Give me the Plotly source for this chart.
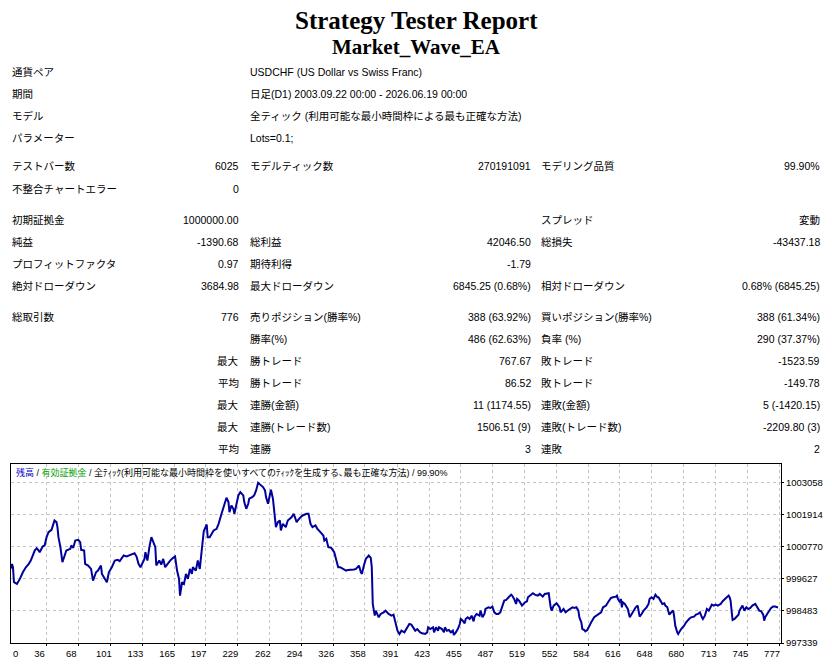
import plotly.graph_objects as go

# --- report header ---
report_title = "Strategy Tester Report"
ea_name = "Market_Wave_EA"

info_labels = ["通貨ペア", "期間", "モデル", "パラメーター"]
info_values = [
    "USDCHF (US Dollar vs Swiss Franc)",
    "日足(D1) 2003.09.22 00:00 - 2026.06.19 00:00",
    "全ティック (利用可能な最小時間枠による最も正確な方法)",
    "Lots=0.1;",
]

# stats table: label1, value1, label2, value2, label3, value3
stats_rows = [
    ["テストバー数", "6025", "モデルティック数", "270191091", "モデリング品質", "99.90%"],
    ["不整合チャートエラー", "0", "", "", "", ""],
    ["初期証拠金", "1000000.00", "", "", "スプレッド", "変動"],
    ["純益", "-1390.68", "総利益", "42046.50", "総損失", "-43437.18"],
    ["プロフィットファクタ", "0.97", "期待利得", "-1.79", "", ""],
    ["絶対ドローダウン", "3684.98", "最大ドローダウン", "6845.25 (0.68%)", "相対ドローダウン", "0.68% (6845.25)"],
    ["総取引数", "776", "売りポジション(勝率%)", "388 (63.92%)", "買いポジション(勝率%)", "388 (61.34%)"],
    ["", "", "勝率(%)", "486 (62.63%)", "負率 (%)", "290 (37.37%)"],
    ["", "最大", "勝トレード", "767.67", "敗トレード", "-1523.59"],
    ["", "平均", "勝トレード", "86.52", "敗トレード", "-149.78"],
    ["", "最大", "連勝(金額)", "11 (1174.55)", "連敗(金額)", "5 (-1420.15)"],
    ["", "最大", "連勝(トレード数)", "1506.51 (9)", "連敗(トレード数)", "-2209.80 (3)"],
    ["", "平均", "連勝", "3", "連敗", "2"],
]

# --- balance curve (trade number -> balance) ---
trade_no = [
    0, 1, 2, 3, 6, 9, 12, 15, 18, 20, 24, 26, 28, 29, 32, 34, 36, 38, 41, 44,
    46, 47, 48, 50, 52, 54, 56, 60, 61, 63, 65, 68, 70, 71, 74, 75, 78, 81, 83, 86,
    88, 91, 92, 94, 97, 99, 102, 105, 108, 110, 112, 114, 117, 119, 122, 125, 127, 129, 131, 133,
    135, 136, 138, 140, 142, 144, 146, 147, 150, 152, 154, 156, 158, 161, 164, 166, 168, 170, 171, 173,
    175, 177, 179, 181, 183, 184, 187, 189, 191, 193, 195,
    198, 199, 201, 203, 205, 208, 210, 213, 216, 218, 220, 221, 223, 225, 226, 228, 230, 232, 235, 236,
    238, 240, 241, 244, 246, 248, 250, 253, 255, 257, 258, 260, 262, 263, 265, 267, 268, 270, 272, 273,
    275, 278, 280, 284, 286, 289, 290, 293, 295, 299, 301, 303, 305, 308, 310, 313, 316, 317, 319, 321,
    324, 327, 329, 331, 333, 336, 339, 341, 344, 347, 349, 352, 354, 355, 357, 359, 362, 364, 365, 366,
    368, 369, 372, 374, 377, 379, 382, 385, 387,
    390, 391, 393, 395, 398, 401, 403, 405, 407, 409, 411, 414, 416, 419, 421, 422, 424, 427, 428, 430,
    432, 433, 436, 438, 439, 441, 443, 445, 447, 448, 450, 452, 454, 455, 457, 459, 460, 462, 464, 466,
    468, 469, 471, 474, 475, 477, 479, 480, 483, 485, 487, 489, 491, 493, 495, 497, 499, 501, 502, 504,
    506, 507, 509, 511, 512, 514, 516, 517, 520, 522, 523, 525, 528, 530, 533, 535, 538, 540, 543, 544,
    546, 547, 549, 552, 555, 556, 559, 561, 564, 566, 568, 570, 572, 574, 575, 577, 578, 580,
    581, 583, 585, 587, 590, 592, 594, 597, 599, 602, 604, 607, 609, 612, 613, 614, 616, 617, 618, 619,
    621, 622, 624, 626, 628, 630, 632, 634, 635, 636, 638, 640, 643, 645, 646, 648, 650, 652, 654, 655,
    657, 659, 661, 662, 664, 665, 666, 668, 670, 671, 672, 674, 675, 676, 678, 681, 683, 686, 688, 691,
    693, 695, 697, 699, 700, 702, 704, 706, 708, 709, 711, 713, 715, 718, 720, 723, 726, 727, 728, 729,
    730, 732, 734, 736, 737, 739, 740, 742, 744, 746, 748, 750, 753, 755, 757, 759, 761, 762, 763, 765,
    767, 769, 771, 773, 776,
]
balance = [
    1000000, 1000160, 1000043, 999507, 999447, 999626, 999864, 1000043, 1000162, 1000281,
    1000639, 1000722, 1000639, 1000579, 1000782, 1000818, 1001116, 1001294, 1001378, 1001711,
    1001652, 1001473, 1001116, 1000758, 1000222, 1000424, 1000639, 1000699, 1000818, 1000734,
    1000996, 1001020, 1000937, 1000663, 1000639, 1000162, 1000103, 999983, 999566, 999864,
    999924, 1000103, 999805, 999686, 999507, 999864, 1000043, 1000281, 1000305, 1000258,
    1000377, 1000460, 1000424, 1000460, 1000496, 1000544, 1000424, 1000162, 1000043, 1000222,
    1000341, 1000579, 1000281, 1000758, 1001116, 1000937, 1000758, 1000103, 1000281, 1000138,
    1000341, 1000043, 1000138, 1000281, 1000377, 1000424, 999924, 999626, 999030, 999507,
    999447, 999805, 999626, 999983, 999805, 1000043, 999924, 1000281, 999983, 1000639, 1001330,
    1001568, 1001116, 1001116, 1001235, 1001354, 1001414, 1001592, 1001950, 1002307, 1002522,
    1002367, 1002009, 1002248, 1002129, 1001950, 1002307, 1002605, 1002724, 1002605, 1002367,
    1002129, 1002307, 1002486, 1002546, 1002605, 1002784, 1003058, 1002963, 1002903, 1002784,
    1002546, 1002307, 1002665, 1002808, 1002486, 1001831, 1001473, 1001652, 1001711, 1001354,
    1001592, 1001473, 1001711, 1001831, 1001950, 1001652, 1001711, 1001831, 1001890, 1001950,
    1001950, 1001592, 1001473, 1001533, 1001414, 1001294, 1001175, 1000996, 1001056, 1000758,
    1000734, 1000579, 1000281, 1000043, 1000043, 999983, 999924, 999948, 999948, 999960,
    999983, 1000103, 999864, 999805, 1000103, 1000341, 1000460, 1000377, 1000043, 998732,
    998315, 998494, 998256, 998375, 998434, 998494, 998375, 998315, 998351,
    997898, 997779, 997660, 997779, 997719, 997898, 998017, 997993, 997898, 997779,
    997838, 997719, 997684, 997660, 997719, 997898, 997838, 997898, 997719, 997898,
    997779, 997898, 997838, 997719, 997898, 997779, 997803, 997719, 997779, 997624,
    997719, 997838, 998017, 998196, 998136, 998041, 998196, 998256, 998196, 998315,
    998113, 998279, 998375, 998315, 998494, 998256, 998375, 998553, 998613, 998589,
    998637, 998434, 998375, 998375, 998434, 998673, 998851, 998875, 998911, 998971,
    999066, 999030, 998911, 998732, 998911, 998851, 998732, 998673, 998792, 998828,
    998971, 999030, 999114, 999066, 999030, 999090, 998994, 999090, 999114, 999114,
    998613, 998494, 998673, 998756, 998613, 998434, 998553, 998434, 998518, 998553,
    998613, 998589, 998613, 998494, 998256, 998077, 997838, 997803,
    997755, 997803, 997958, 998077, 998256, 998315, 998375, 998434, 998613, 998673,
    998792, 998947, 998971, 998994, 999030, 998911, 998792, 998911, 998613, 998792,
    998732, 998673, 998553, 998256, 998375, 998494, 998613, 998673, 998494, 998279,
    998375, 998494, 998613, 998732, 998911, 998971, 998911, 999066, 998971, 998971,
    998851, 998732, 998756, 998673, 998613, 998434, 998351, 998434, 998494, 998256,
    997958, 997719, 997660, 997719, 997838, 997958, 998077, 998196, 998256, 998279,
    998351, 998375, 998434, 998256, 998196, 998315, 998553, 998494, 998613, 998708,
    998673, 998708, 998673, 998732, 998828, 998947, 999030, 998971, 998851, 998494,
    998160, 998196, 998256, 998351, 998494, 998613, 998673, 998494, 998613, 998553,
    998589, 998673, 998732, 998613, 998494, 998470, 998351, 998136, 998256, 998375,
    998494, 998589, 998637, 998637, 998609,
]

x_tick_labels = [0, 36, 68, 101, 133, 165, 197, 229, 262, 294, 326, 358,
                 391, 423, 455, 487, 519, 552, 584, 616, 648, 680, 713, 745, 777]
y_tick_labels = [997339, 998483, 999627, 1000770, 1001914, 1003058]

chart_caption = ('<span style="color:#0000c8">残高</span> / '
                 '<span style="color:#00a000">有効証拠金</span> / '
                 '全ﾃｨｯｸ(利用可能な最小時間枠を使いすべてのﾃｨｯｸを生成する､最も正確な方法) / 99.90%')

# the page puts the figure 8px in from the top-left corner, so the figure
# is 8px smaller and every position below is given in window pixels
OFF = 8
W, H = 832 - OFF, 664 - OFF
FONT = "Liberation Sans, Noto Sans CJK JP, sans-serif"


def px(x):
    return (x - OFF) / W


def py(y):
    return 1 - (y - OFF) / H


fig = go.Figure()

fig.add_trace(go.Scatter(
    x=trade_no,
    y=balance,
    mode='lines',
    line=dict(color='#00009c', width=2),
    hoverinfo='skip'
))

annotations = []


def text(x, y, s, anchor='left', size=10.5, family=FONT):
    annotations.append(dict(
        x=px(x), y=py(y), xref='paper', yref='paper', text=s, showarrow=False,
        xanchor=anchor, yanchor='middle', font=dict(family=family, size=size, color='black')
    ))


# titles
text(416, 21, "<b>%s</b>" % report_title, 'center', 25, "Liberation Serif, serif")
text(416, 47, "<b>%s</b>" % ea_name, 'center', 21, "Liberation Serif, serif")

# header info
info_y = [72, 94, 116, 138]
for lab, val, y in zip(info_labels, info_values, info_y):
    text(10, y, lab)
    text(248, y, val)

# stats table
row_y = [166, 189, 220, 242, 264, 286, 317, 339, 361, 383, 405, 427, 449]
col_x = [(10, 'left'), (241, 'right'), (248, 'left'), (533, 'right'), (539, 'left'), (822, 'right')]
for row, y in zip(stats_rows, row_y):
    for cell, (x, anchor) in zip(row, col_x):
        if cell:
            text(x, y, cell, anchor)

# chart caption
text(14, 472, chart_caption, 'left', 9)

# first x label sits against the left border, left-aligned like the terminal draws it
annotations.append(dict(
    x=x_tick_labels[0], y=py(653), xref='x', yref='paper', text=str(x_tick_labels[0]),
    showarrow=False, xanchor='left', yanchor='middle',
    font=dict(family=FONT, size=9.5, color='black')
))

fig.update_layout(
    width=W, height=H,
    margin=dict(l=0, r=0, t=0, b=0),
    paper_bgcolor='white',
    plot_bgcolor='white',
    showlegend=False,
    annotations=annotations,
    xaxis=dict(
        domain=[px(11), px(781)],
        range=[0, 779],
        tickvals=x_tick_labels[1:],
        ticktext=[str(v) for v in x_tick_labels[1:]],
        showgrid=True, gridcolor='#c4c4c4', griddash='3px,3px', gridwidth=1,
        zeroline=False,
        showline=True, linecolor='black', linewidth=1, mirror=True,
        ticks='outside', ticklen=2, tickcolor='black',
        ticklabelshift=-7, ticklabeloverflow='allow',
        tickfont=dict(family=FONT, size=9.5, color='black'),
        automargin=False, fixedrange=True,
    ),
    yaxis=dict(
        domain=[py(643), py(464)],
        range=[997339, 1003726],
        side='right',
        tickvals=y_tick_labels,
        ticktext=[str(v) for v in y_tick_labels],
        showgrid=True, gridcolor='#c4c4c4', griddash='3px,3px', gridwidth=1,
        zeroline=False,
        showline=True, linecolor='black', linewidth=1, mirror=True,
        ticks='outside', ticklen=2, tickcolor='black',
        ticklabeloverflow='allow',
        tickfont=dict(family=FONT, size=9.5, color='black'),
        automargin=False, fixedrange=True,
    ),
)

fig.write_html("out.html")
